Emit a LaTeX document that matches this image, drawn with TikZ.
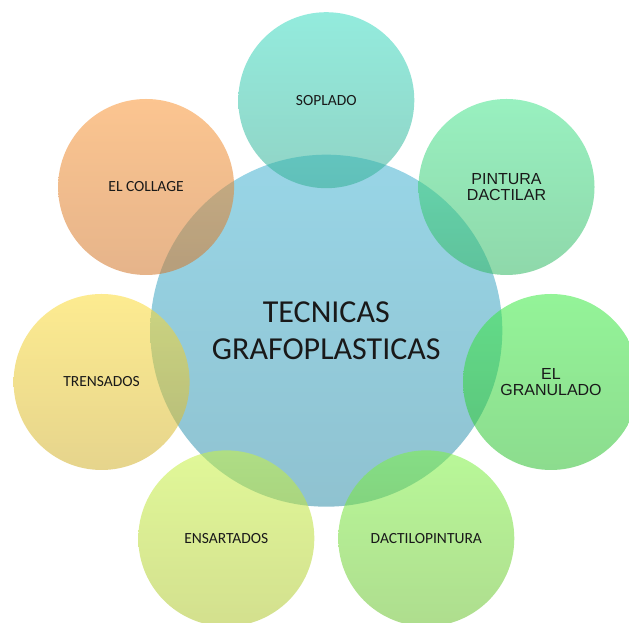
\documentclass[tikz,border=0pt]{standalone}
\usepackage{fontspec}
\setmainfont{Carlito}
\newfontfamily\arialfont{Liberation Sans}

% Colores de las burbujas (tono lleno, se aclaran con la opacidad)
\definecolor{azulA}{RGB}{68,179,210}
\definecolor{azulB}{RGB}{51,144,170}
\definecolor{turquesaA}{RGB}{59,219,193}
\definecolor{turquesaB}{RGB}{53,175,149}
\definecolor{mentaA}{RGB}{68,228,140}
\definecolor{mentaB}{RGB}{50,184,100}
\definecolor{verdeA}{RGB}{60,235,68}
\definecolor{verdeB}{RGB}{46,191,49}
\definecolor{limaA}{RGB}{126,242,68}
\definecolor{limaB}{RGB}{108,193,49}
\definecolor{pistachoA}{RGB}{199,242,68}
\definecolor{pistachoB}{RGB}{175,198,49}
\definecolor{amarilloA}{RGB}{251,219,53}
\definecolor{amarilloB}{RGB}{209,177,46}
\definecolor{naranjaA}{RGB}{249,149,53}
\definecolor{naranjaB}{RGB}{209,118,42}

\tikzset{
  burbuja/.style={circle, minimum size=176pt, inner sep=0pt, draw=none,
    fill opacity=0.55, text opacity=1, text=black!90, align=center,
    font=\fontsize{15.5}{18}\selectfont},
  burbujacentro/.style={burbuja, minimum size=352pt,
    font=\fontsize{32}{36.6}\selectfont},
  textoarial/.style={font=\arialfont\fontsize{16}{16.6}\selectfont},
}

\begin{document}
\begin{tikzpicture}[x=1pt,y=1pt]

    % Distance from the centre to each bubble
    \def\dist{230.5}

    \useasboundingbox (0,0) rectangle (629,623);
    \clip (0,0) rectangle (629,623);

    % Central bubble
    \node[burbujacentro, top color=azulA, bottom color=azulB] (centro) at (326.3,292.3)
        {TECNICAS\\GRAFOPLASTICAS};

    % Outer bubbles
    \node[burbuja, top color=turquesaA, bottom color=turquesaB] (soplado)
        at ([shift={(90:\dist)}]centro) {SOPLADO};
    \node[burbuja, textoarial, top color=mentaA, bottom color=mentaB] (pintura)
        at ([shift={(38.57:\dist)}]centro) {PINTURA\\DACTILAR};
    \node[burbuja, textoarial, top color=verdeA, bottom color=verdeB] (granulado)
        at ([shift={(-12.86:\dist)}]centro) {EL\\GRANULADO};
    \node[burbuja, top color=limaA, bottom color=limaB] (dactilo)
        at ([shift={(-64.29:\dist)}]centro) {DACTILOPINTURA};
    \node[burbuja, top color=pistachoA, bottom color=pistachoB] (ensartados)
        at ([shift={(-115.71:\dist)}]centro) {ENSARTADOS};
    \node[burbuja, top color=amarilloA, bottom color=amarilloB] (trensados)
        at ([shift={(-167.14:\dist)}]centro) {TRENSADOS};
    \node[burbuja, top color=naranjaA, bottom color=naranjaB] (collage)
        at ([shift={(141.43:\dist)}]centro) {EL COLLAGE};

\end{tikzpicture}
\end{document}
